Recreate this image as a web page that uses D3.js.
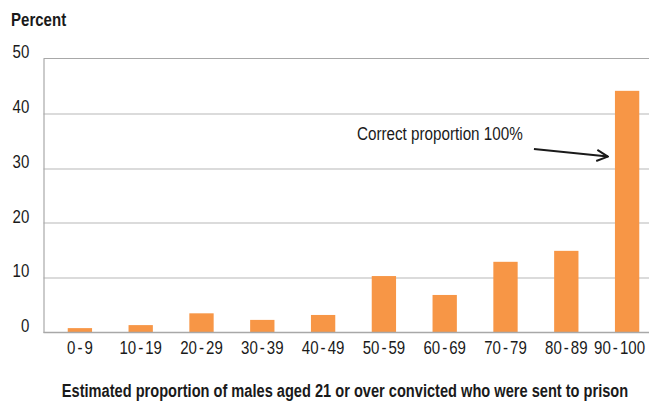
<!DOCTYPE html>
<html>
<head>
<meta charset="utf-8">
<script src="https://cdn.jsdelivr.net/npm/d3@7"></script>
<style>
  body { margin: 0; background: #fff; }
  text { font-family: "Liberation Sans", Arial, sans-serif; fill: #1a1a1a; }
</style>
</head>
<body>
<div id="chart"></div>
<script>
// data
var categories = ["0 - 9", "10 - 19", "20 - 29", "30 - 39", "40 - 49", "50 - 59", "60 - 69", "70 - 79", "80 - 89", "90 - 100"];
var percents = [0.8, 1.35, 3.5, 2.3, 3.2, 10.3, 6.85, 12.9, 14.9, 44.1];
var yTicks = [0, 10, 20, 30, 40, 50];

var yTitle = "Percent";
var xTitle = "Estimated proportion of males aged 21 or over convicted who were sent to prison";
var noteText = "Correct proportion 100%";

var data = categories.map(function (c, i) { return { cat: c, value: percents[i] }; });

var narrow = 0.86; // the original font is a narrow one, squeeze Liberation Sans

var svg = d3.select("#chart").append("svg").attr("width", 649).attr("height", 401),
    margin = {top: 58.5, right: 0, bottom: 69, left: 43.5},
    width = +svg.attr("width") - margin.left - margin.right,
    height = +svg.attr("height") - margin.top - margin.bottom;

var x = d3.scaleBand().domain(categories).range([6, 614]).paddingInner(0.6).paddingOuter(0.3);
var y = d3.scaleLinear().domain([0, 50]).range([height + 0.5, 0]);

var g = svg.append("g").attr("transform", "translate(" + margin.left + "," + margin.top + ")");

function addText(parent, px, py, str, sx) {
  return parent.append("text")
    .attr("transform", "translate(" + px + "," + py + ") scale(" + (sx || narrow) + ",1)")
    .attr("font-size", "17.5px")
    .text(str);
}

// gridlines
g.selectAll(".grid").data(yTicks.filter(function (d) { return d > 0 && d < 50; }))
  .enter().append("line")
  .attr("x1", 0).attr("x2", width)
  .attr("y1", function (d) { return Math.round(y(d)) + 0.5; })
  .attr("y2", function (d) { return Math.round(y(d)) + 0.5; })
  .attr("stroke", "#cfcfcf").attr("stroke-width", 1.3);

// top border at 50
g.append("line").attr("x1", 0).attr("x2", width).attr("y1", y(50)).attr("y2", y(50))
  .attr("stroke", "#a8a8a8").attr("stroke-width", 1.2);

// bars
g.selectAll(".bar").data(data).enter().append("rect")
  .attr("class", "bar")
  .attr("x", function (d) { return x(d.cat); })
  .attr("width", x.bandwidth())
  .attr("y", function (d) { return y(d.value); })
  .attr("height", function (d) { return y(0) - y(d.value); })
  .attr("fill", "#f79646");

// y axis
var yAxis = d3.axisLeft(y).tickValues(yTicks).tickSize(0);
var ya = g.append("g").attr("font-family", null).call(yAxis);
ya.select(".domain").attr("stroke", "#a8a8a8").attr("stroke-width", 1.2);
ya.selectAll("text").attr("font-size", "17.5px").attr("x", -16.5).attr("dy", "-0.05em")
  .attr("transform", "scale(" + narrow + ",1)");

// x axis
var xAxis = d3.axisBottom(x).tickSize(0).tickPadding(9);
var xa = g.append("g").attr("font-family", null).attr("transform", "translate(0," + y(0) + ")").call(xAxis);
xa.select(".domain").attr("d", "M0,0H" + width).attr("stroke", "#a8a8a8").attr("stroke-width", 1.5);
xa.selectAll("text").attr("font-size", "17.5px").attr("dy", "0.71em")
  .attr("transform", "scale(" + narrow + ",1)")
  .style("word-spacing", "-2.5px");

// last label is pushed left so it stays inside the picture
var last = categories[categories.length - 1];
var lastCenter = x(last) + x.bandwidth() / 2;
xa.selectAll("text").filter(function (d) { return d === last; })
  .attr("text-anchor", "end")
  .attr("x", (601.5 - lastCenter) / narrow);

// titles
addText(svg, 11, 26, yTitle).attr("font-weight", "bold");
addText(svg, 345, 397, xTitle, 0.835).attr("font-weight", "bold").attr("text-anchor", "middle");

// annotation
addText(g, x(last) - 258, y(35.1), noteText, 0.87);

svg.append("defs").append("marker")
  .attr("id", "arrow").attr("viewBox", "0 0 10 10").attr("refX", 9).attr("refY", 5)
  .attr("markerWidth", 7).attr("markerHeight", 7).attr("orient", "auto")
  .append("path").attr("d", "M1,1 L9,5 L1,9").attr("fill", "none")
  .attr("stroke", "#1a1a1a").attr("stroke-width", 1.4);

g.append("line")
  .attr("x1", x(last) - 81).attr("y1", y(33.5))
  .attr("x2", x(last) - 7).attr("y2", y(32.1))
  .attr("stroke", "#1a1a1a").attr("stroke-width", 2)
  .attr("marker-end", "url(#arrow)");
</script>
</body>
</html>
